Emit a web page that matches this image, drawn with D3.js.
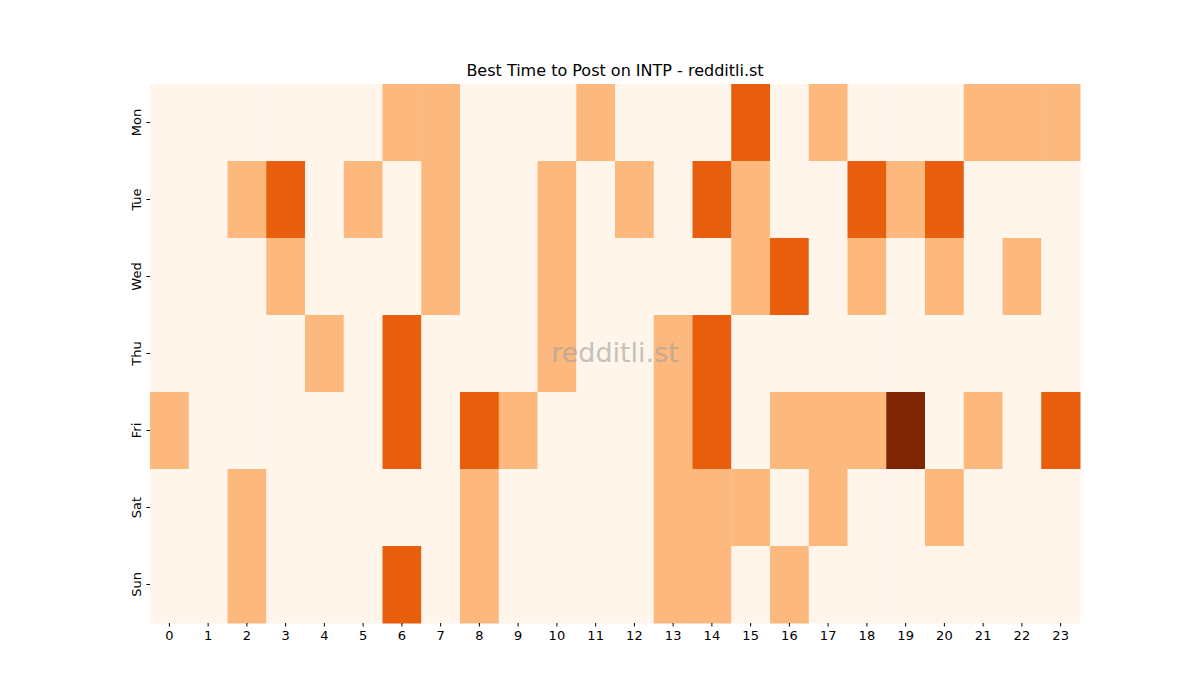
<!DOCTYPE html>
<html>
<head>
<meta charset="utf-8">
<script src="https://cdn.jsdelivr.net/npm/d3@7"></script>
<style>
  body { margin: 0; background: #fff; font-family: "DejaVu Sans", sans-serif; }
</style>
</head>
<body>
<div id="chart"></div>
<script>
    'use strict';
    // heatmap of posting activity, day x hour
    var days = ['Mon', 'Tue', 'Wed', 'Thu', 'Fri', 'Sat', 'Sun'];
    var hours = d3.range(24);

    var mon = [0,0,0,0,0,0,1,1,0,0,0,1,0,0,0,2,0,1,0,0,0,1,1,1];
    var tue = [0,0,1,2,0,1,0,1,0,0,1,0,1,0,2,1,0,0,2,1,2,0,0,0];
    var wed = [0,0,0,1,0,0,0,1,0,0,1,0,0,0,0,1,2,0,1,0,1,0,1,0];
    var thu = [0,0,0,0,1,0,2,0,0,0,1,0,0,1,2,0,0,0,0,0,0,0,0,0];
    var fri = [1,0,0,0,0,0,2,0,2,1,0,0,0,1,2,0,1,1,1,3,0,1,0,2];
    var sat = [0,0,1,0,0,0,0,0,1,0,0,0,0,1,1,1,0,1,0,0,1,0,0,0];
    var sun = [0,0,1,0,0,0,2,0,1,0,0,0,0,1,1,0,1,0,0,0,0,0,0,0];
    var rows = [mon, tue, wed, thu, fri, sat, sun];

    var levelColors = ['#fff5eb', '#fdb97d', '#e95e0d', '#7f2704'];

    (function () {
        var width = 1200, height = 700,
            mLeft = 150, mRight = 1080, mTop = 84, mBottom = 623;

        var svg = d3.select('#chart').append('svg')
            .attr('width', width).attr('height', height);

        var x = d3.scaleBand().domain(hours).range([mLeft, mRight]);
        var y = d3.scaleBand().domain(days).range([mTop, mBottom]);
        var color = d3.scaleOrdinal().domain([0, 1, 2, 3]).range(levelColors);

        var cells = [];
        rows.forEach(function (r, i) {
            r.forEach(function (v, h) {
                cells.push({ day: days[i], hour: h, value: v });
            });
        });

        svg.append('g').selectAll('rect')
            .data(cells)
            .enter()
            .append('rect')
            .attr('x', function (d) { return x(d.hour); })
            .attr('y', function (d) { return y(d.day); })
            .attr('width', x.bandwidth() + 0.5)
            .attr('height', y.bandwidth() + 0.5)
            .attr('fill', function (d) { return color(d.value); });

        var xAxis = svg.append('g')
            .attr('transform', 'translate(0,' + mBottom + ')')
            .call(d3.axisBottom(x).tickSize(3.5).tickPadding(4));
        xAxis.select('.domain').remove();
        xAxis.selectAll('text').attr('font-size', 13).attr('fill', '#000')
            .attr('font-family', 'DejaVu Sans');

        var yAxis = svg.append('g')
            .attr('transform', 'translate(' + mLeft + ',0)')
            .call(d3.axisLeft(y).tickSize(3.5).tickPadding(4));
        yAxis.select('.domain').remove();
        yAxis.selectAll('text')
            .attr('font-size', 13).attr('fill', '#000')
            .attr('font-family', 'DejaVu Sans')
            .attr('text-anchor', 'middle')
            .attr('dy', null)
            .attr('transform', 'rotate(-90)')
            .attr('x', 0)
            .attr('y', -9);

        svg.append('text')
            .attr('x', (mLeft + mRight) / 2).attr('y', 76)
            .attr('text-anchor', 'middle')
            .attr('font-size', 16)
            .text('Best Time to Post on INTP - redditli.st');

        svg.append('text')
            .attr('x', (mLeft + mRight) / 2).attr('y', 362)
            .attr('text-anchor', 'middle')
            .attr('font-size', 27)
            .attr('fill', '#a0a0a0').attr('opacity', 0.6)
            .text('redditli.st');
    })();
</script>
</body>
</html>
